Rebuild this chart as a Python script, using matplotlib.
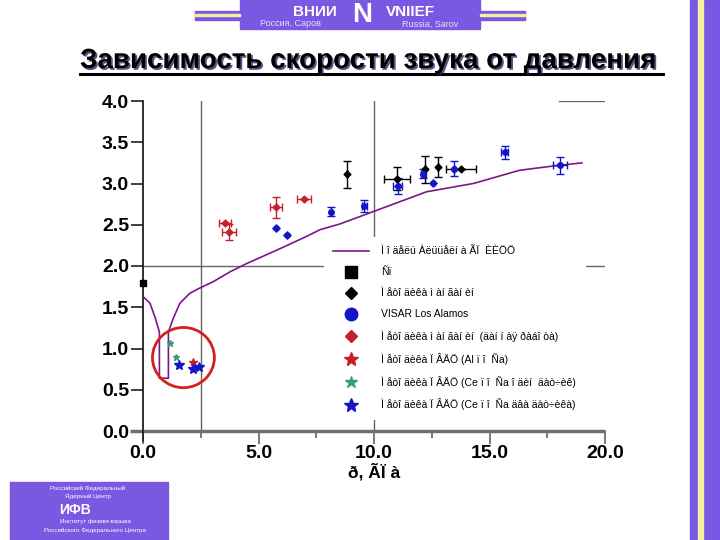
import numpy as np
import matplotlib
matplotlib.use('Agg')
import matplotlib.pyplot as plt
from matplotlib.lines import Line2D
from matplotlib.patches import Rectangle, Ellipse
import matplotlib.patheffects as pe

plt.rcParams['font.family'] = ['Liberation Sans', 'DejaVu Sans']

# model curve (p, GPa ; c, km/s)
curve_p = [0.0, 0.3, 0.52, 0.71, 0.71, 1.1, 1.1, 1.3, 1.6, 2.03, 2.44, 3.04, 3.77, 4.49,
           5.93, 7.09, 7.66, 8.53, 9.97, 12.28, 14.3, 16.3, 17.7, 19.0]
curve_c = [1.63, 1.55, 1.38, 1.2, 0.64, 0.64, 1.2, 1.36, 1.55, 1.67, 1.73, 1.81, 1.93, 2.03,
           2.21, 2.36, 2.44, 2.51, 2.66, 2.90, 3.0, 3.16, 3.21, 3.25]

# Ni point
ni_p = [0.0]
ni_c = [1.79]

# manganin gauge (black)
mg_p = [8.84, 10.98, 12.2, 12.78, 13.75]
mg_c = [3.11, 3.06, 3.17, 3.20, 3.18]
mg_px = [0.0, 0.56, 0.0, 0.0, 0.65]
mg_cx = [0.16, 0.14, 0.16, 0.12, 0.0]

# VISAR Los Alamos (blue)
vis_p = [5.76, 6.22, 8.14, 9.58, 11.02, 12.14, 12.57, 13.46, 15.65, 18.05]
vis_c = [2.46, 2.38, 2.66, 2.73, 2.97, 3.12, 3.01, 3.18, 3.38, 3.22]
vis_px = [0.0, 0.0, 0.0, 0.1, 0.2, 0.1, 0.0, 0.0, 0.15, 0.3]
vis_cx = [0.0, 0.0, 0.05, 0.075, 0.1, 0.05, 0.0, 0.09, 0.08, 0.1]

# manganin gauge, this work (red)
mgw_p = [3.55, 3.74, 5.76, 6.97]
mgw_c = [2.52, 2.41, 2.71, 2.81]
mgw_px = [0.25, 0.3, 0.27, 0.3]
mgw_cx = [0.0, 0.1, 0.13, 0.0]

# PVDF gauges (stars)
al_p = [2.15]
al_c = [0.84]
ce1_p = [1.17, 1.41]
ce1_c = [1.07, 0.90]
ce2_p = [1.56, 2.18, 2.42]
ce2_c = [0.80, 0.75, 0.77]

labels = ['Ì î äåëü Àëüüåëí à ÃÏ  ÈÈÖÖ',
          'Ñï',
          'Ì åòî äèêà ì àí ãàí èí',
          'VISAR Los Alamos',
          'Ì åòî äèêà ì àí ãàí èí  (äàí í àÿ ðàáî òà)',
          'Ì åòî äèêà Ï ÂÄÖ (Al ï î  Ña)',
          'Ì åòî äèêà Ï ÂÄÖ (Ce ï î  Ña î äèí  äàò÷èê)',
          'Ì åòî äèêà Ï ÂÄÖ (Ce ï î  Ña äâà äàò÷èêà)']

purple = '#7a1888'
blue = '#1414c8'
red = '#c4202a'
green = '#3a9a78'
frame = '#7b58e2'

fig = plt.figure(figsize=(7.2, 5.4), dpi=100)

# slide decorations in pixel coordinates
bg = fig.add_axes([0, 0, 1, 1], zorder=0)
bg.set_xlim(0, 720)
bg.set_ylim(540, 0)
bg.axis('off')
bg.add_patch(Rectangle((240, 0), 240, 29, color=frame))
bg.add_patch(Rectangle((195, 11), 45, 9, color=frame))
bg.add_patch(Rectangle((480, 11), 45, 9, color=frame))
bg.add_patch(Rectangle((195, 14), 45, 2, color='#f4eea0'))
bg.add_patch(Rectangle((480, 14), 45, 2, color='#f4eea0'))
bg.add_patch(Rectangle((690, 0), 30, 540, color=frame))
bg.add_patch(Rectangle((698, 0), 5, 540, color='#f4eea0'))
bg.add_patch(Rectangle((10, 482), 158, 58, color=frame))
bg.text(315, 12, 'ВНИИ', color='white', fontsize=11, fontweight='bold', ha='center', va='center')
bg.text(410, 12, 'VNIIEF', color='white', fontsize=11, fontweight='bold', ha='center', va='center')
bg.text(290, 24, 'Россия, Саров', color='#e8e0ff', fontsize=6.5, ha='center', va='center')
bg.text(430, 24, 'Russia, Sarov', color='#e8e0ff', fontsize=6.5, ha='center', va='center')
bg.text(362, 15, 'N', color='white', fontsize=20, fontweight='bold', ha='center', va='center')
bg.text(88, 488, 'Российский Федеральный', color='white', fontsize=4.5, ha='center', va='center')
bg.text(88, 496, 'Ядерный Центр', color='white', fontsize=4.5, ha='center', va='center')
bg.text(75, 510, 'ИФВ', color='white', fontsize=10, fontweight='bold', ha='center', va='center')
bg.text(95, 521, 'Институт физики взрыва', color='white', fontsize=4.5, ha='center', va='center')
bg.text(95, 530, 'Российского Федерального Центра', color='white', fontsize=4.5, ha='center', va='center')

shadow = [pe.withSimplePatchShadow(offset=(1.3, -1.3), shadow_rgbFace='#1c1c5a', alpha=0.75)]
title = bg.text(80, 68, 'Зависимость скорости звука от давления', fontsize=20,
                fontweight='bold', color='black', ha='left', va='baseline')
title.set_path_effects(shadow)
ul = Line2D([80, 663], [73.5, 73.5], color='black', lw=2.2)
ul.set_path_effects(shadow)
bg.add_line(ul)

ax = fig.add_axes([143 / 720, 1 - 431 / 540, 462 / 720, 330 / 540], zorder=1)
ax.patch.set_alpha(0)
ax.set_xlim(0, 20)
ax.set_ylim(0, 4)
for s in ax.spines.values():
    s.set_visible(False)

grid_col = '#666666'
ax.axvline(2.5, color=grid_col, lw=1)
ax.axvline(10, color=grid_col, lw=1)
ax.axhline(2.0, color=grid_col, lw=1)
ax.plot([18.0, 20.0], [4.0, 4.0], color=grid_col, lw=1)
ax.plot([-0.55, 20], [0, 0], color='#707070', lw=2.5, clip_on=False, solid_capstyle='butt')
ax.plot([0, 0], [-0.12, 4.0], color='#202020', lw=1.3, clip_on=False)

ax.set_xticks([0, 5, 10, 15, 20])
ax.set_xticklabels(['0.0', '5.0', '10.0', '15.0', '20.0'])
ax.set_xticks([2.5, 7.5, 12.5, 17.5], minor=True)
ax.set_yticks(np.arange(0, 4.01, 0.5))
ax.set_yticklabels(['%.1f' % v for v in np.arange(0, 4.01, 0.5)])
ax.tick_params(axis='x', which='major', length=9, width=1.3, color='#707070', pad=1)
ax.tick_params(axis='x', which='minor', length=5, width=1.3, color='#707070')
ax.tick_params(axis='y', length=9, width=1.3, color='#303030', pad=1)
for t in ax.get_xticklabels() + ax.get_yticklabels():
    t.set_fontsize(14)
    t.set_fontweight('bold')
ax.set_xlabel('ð, ÃÏ à', fontsize=12.5, fontweight='bold', labelpad=1)

ax.plot(curve_p, curve_c, color=purple, lw=1.2, zorder=3)
ax.plot(ni_p, ni_c, 's', color='black', ms=5, clip_on=False, zorder=4)
ax.errorbar(mg_p, mg_c, xerr=mg_px, yerr=mg_cx, fmt='D', color='black', ms=3.5,
            elinewidth=1, capsize=3, zorder=4)
ax.errorbar(vis_p, vis_c, xerr=vis_px, yerr=vis_cx, fmt='o', color=blue, ms=4,
            elinewidth=1, capsize=3, zorder=4)
ax.errorbar(mgw_p, mgw_c, xerr=mgw_px, yerr=mgw_cx, fmt='D', color=red, ms=3.5,
            elinewidth=1, capsize=3, zorder=4)
ax.plot(al_p, al_c, '*', color=red, ms=6, zorder=4)
ax.plot(ce1_p, ce1_c, '*', color=green, ms=5, zorder=4)
ax.plot(ce2_p, ce2_c, '*', color=blue, ms=7, zorder=4)
ax.add_patch(Ellipse((1.75, 0.89), 2.68, 0.73, fill=False, edgecolor='#d42020', lw=2, zorder=5))

handles = [Line2D([], [], color=purple, lw=1.2),
           Line2D([], [], marker='s', ls='', color='black', ms=8),
           Line2D([], [], marker='D', ls='', color='black', ms=6),
           Line2D([], [], marker='o', ls='', color=blue, ms=9),
           Line2D([], [], marker='D', ls='', color=red, ms=6),
           Line2D([], [], marker='*', ls='', color=red, ms=10),
           Line2D([], [], marker='*', ls='', color=green, ms=9),
           Line2D([], [], marker='*', ls='', color=blue, ms=10)]
leg = ax.legend(handles, labels, loc='upper left', bbox_to_anchor=(324 / 720, 1 - 237 / 540),
                bbox_transform=fig.transFigure, fontsize=7.5, frameon=True, framealpha=1,
                facecolor='white', edgecolor='none', fancybox=False, handlelength=3.4,
                handletextpad=1.2, labelspacing=1.05, borderpad=0.9, borderaxespad=0)
leg.set_zorder(6)

fig.savefig('out.png', dpi=100)
